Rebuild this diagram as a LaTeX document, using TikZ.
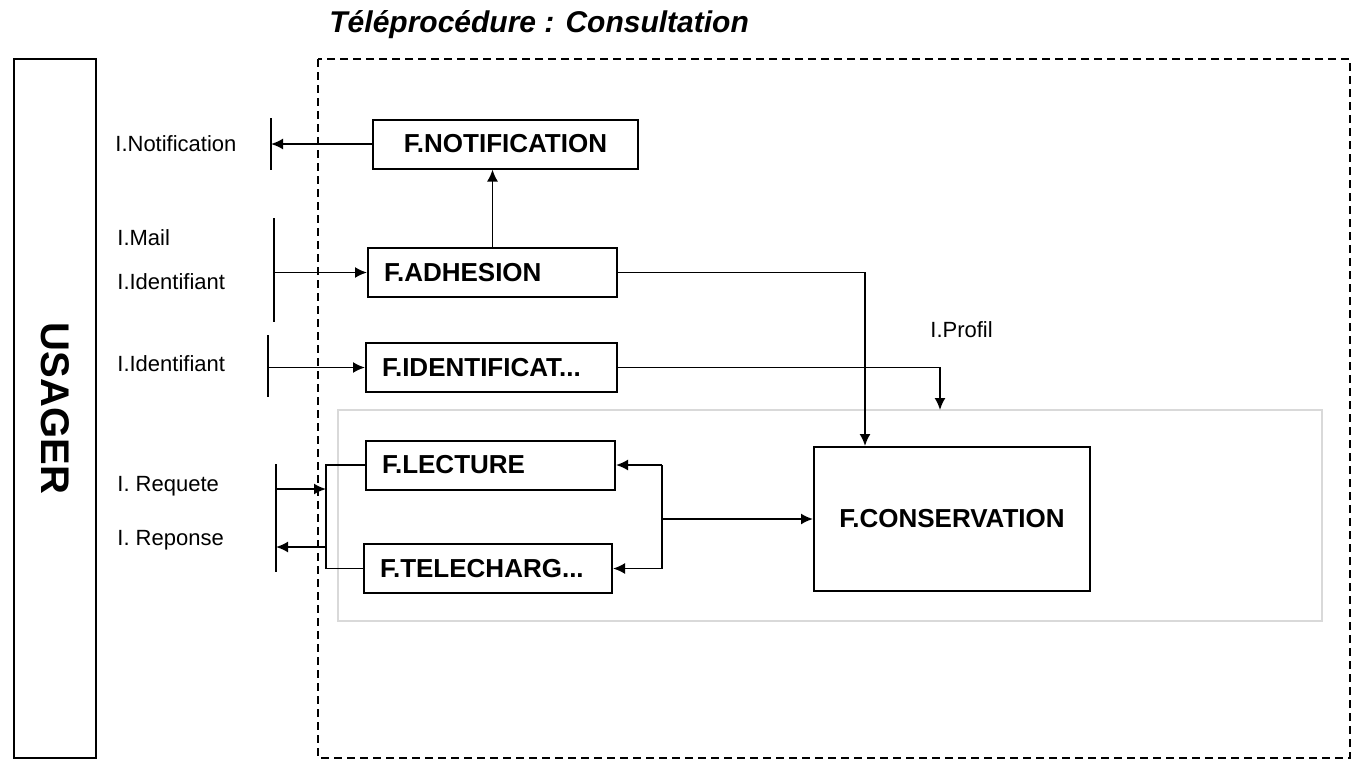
\documentclass[tikz,border=0pt]{standalone}
\usepackage{fontspec}
\setmainfont{Liberation Sans}
\usetikzlibrary{arrows.meta, positioning}
\tikzset{
	fbox/.style={draw, line width=1pt, minimum height=24.5pt, inner xsep=8pt, inner ysep=0pt, font=\fontsize{13}{15}\selectfont\bfseries},
	fleft/.style={fbox, text width=#1-16pt, align=left},
	flux/.style={-{Latex[length=6pt, width=5.5pt]}, line width=0.9pt},
	lien/.style={line width=0.9pt},
	lbl/.style={anchor=west, inner sep=0pt, font=\fontsize{11}{13}\selectfont}
}

\begin{document}
\begin{tikzpicture}[x=0.5pt, y=-0.5pt]
	\useasboundingbox (0,0) rectangle (1360,767);
	
	\node[anchor=west, inner sep=0pt, font=\fontsize{15}{18}\selectfont\bfseries\itshape] (titre) at (329,25) {Téléprocédure : Consultation};
	\draw[dash pattern=on 4pt off 2.5pt, line width=0.8pt] (318,59) rectangle (1350,758);
	\draw[gray!30, line width=0.6pt] (338,410) rectangle (1322,621);
	
	\node[draw, line width=1pt, rotate=-90, minimum width=349.5pt, minimum height=41pt, font=\fontsize{20}{24}\selectfont\bfseries] (usager) at (55,408.5) {USAGER};
	
	\node[fbox, minimum width=132.5pt] (notif) at (505.5,144) {F.NOTIFICATION};
	\node[fleft=124.5pt] (adhesion) at (492.5,272.5) {F.ADHESION};
	\node[fleft=125.5pt] (ident) at (491.5,367.5) {F.IDENTIFICAT...};
	\node[fleft=124.5pt] (lecture) at (490.5,465) {F.LECTURE};
	\node[fleft=124pt] (telech) at (488,568.5) {F.TELECHARG...};
	\node[fbox, minimum width=138pt, minimum height=72pt] (conserv) at (952,519) {F.CONSERVATION};
	
	\node[lbl] (lnotif) at (115,144) {I.Notification};
	\node[lbl] (lmail) at (117,238) {I.Mail};
	\node[lbl] (lident) at (117,282) {I.Identifiant};
	\node[lbl] (lident2) at (117,364) {I.Identifiant};
	\node[lbl] (lreq) at (117,486) {I. Requete};
	\node[lbl] (lrep) at (117,540) {I. Reponse};
	\node[lbl] (lprofil) at (930,330) {I.Profil};
	
	\coordinate (bN1) at (271,118);
	\coordinate (bN2) at (271,170);
	\coordinate (bA1) at (274,218);
	\coordinate (bA2) at (274,322);
	\coordinate (bI1) at (268,335);
	\coordinate (bI2) at (268,397);
	\coordinate (bR1) at (276,464);
	\coordinate (bR2) at (276,572);
	\coordinate (req) at (326,489);
	\coordinate (rep) at (326,547);
	\coordinate (jR) at (662,519);
	\coordinate (profil) at (940,410);
	
	\draw[lien] (bN1) -- (bN2);
	\draw[lien] (bA1) -- (bA2);
	\draw[lien] (bI1) -- (bI2);
	\draw[lien] (bR1) -- (bR2);
	
	\draw[flux] (notif.west) -- (notif.west -| bN1);
	\draw[flux] (adhesion.west -| bA1) -- (adhesion.west);
	\draw[flux] (ident.west -| bI1) -- (ident.west);
	\draw[flux] (adhesion.north) -- (adhesion.north |- notif.south);
	\draw[flux] (adhesion.east) -| ([xshift=26pt]conserv.north west);
	\draw[flux] (ident.east) -| (profil);
	
	\draw[lien] (lecture.west) -| (req |- lecture.west) |- (telech.west);
	\draw[flux] (req -| bR1) -- (req);
	\draw[flux] (rep) -- (rep -| bR1);
	
	\draw[lien] (jR |- lecture.east) -- (jR |- telech.east);
	\draw[flux] (jR |- lecture.east) -- (lecture.east);
	\draw[flux] (jR |- telech.east) -- (telech.east);
	\draw[flux] (jR) -- (conserv.west);
\end{tikzpicture}
\end{document}
